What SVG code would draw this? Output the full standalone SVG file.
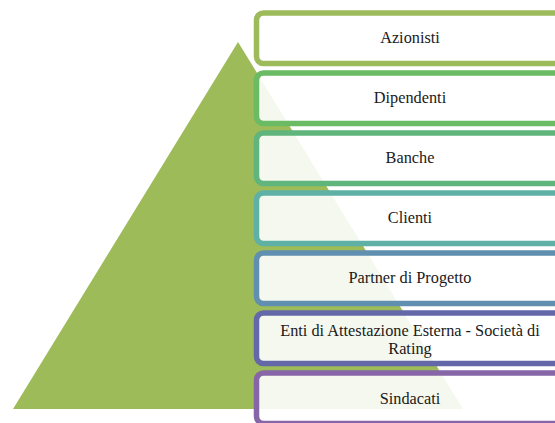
<svg xmlns="http://www.w3.org/2000/svg" width="555" height="423" viewBox="0 0 555 423">
<style>
.box{fill:#ffffff;fill-opacity:0.9;stroke-width:5.5}
.t{font-family:"Liberation Serif","DejaVu Serif",serif;font-size:16.3px;fill:#1a1a1a;text-anchor:middle}
</style>
<rect width="555" height="423" fill="#ffffff"/>
<polygon id="pyramid" points="238,42 463,409 13,409" fill="#9dbb59"/>
<g id="connectors"></g>
<g id="n1"><rect class="box" x="256.5" y="13" width="310" height="50.5" rx="7" stroke="#9dbb5b"/><text class="t" x="410" y="43">Azionisti</text></g>
<g id="n2"><rect class="box" x="256.5" y="73" width="310" height="50.5" rx="7" stroke="#6abb63"/><text class="t" x="410" y="103">Dipendenti</text></g>
<g id="n3"><rect class="box" x="256.5" y="133" width="310" height="50.5" rx="7" stroke="#5fb57c"/><text class="t" x="410" y="163">Banche</text></g>
<g id="n4"><rect class="box" x="256.5" y="193" width="310" height="50.5" rx="7" stroke="#5fb1a5"/><text class="t" x="410" y="223">Clienti</text></g>
<g id="n5"><rect class="box" x="256.5" y="253" width="310" height="50.5" rx="7" stroke="#608fb0"/><text class="t" x="410" y="283">Partner di Progetto</text></g>
<g id="n6"><rect class="box" x="256.5" y="313" width="310" height="50.5" rx="7" stroke="#6468a8"/><text class="t" x="410" y="335.5">Enti di Attestazione Esterna - Società di</text><text class="t" x="410" y="354">Rating</text></g>
<g id="n7"><rect class="box" x="256.5" y="373" width="310" height="50.5" rx="7" stroke="#8766a8"/><text class="t" x="410" y="404">Sindacati</text></g>
</svg>
